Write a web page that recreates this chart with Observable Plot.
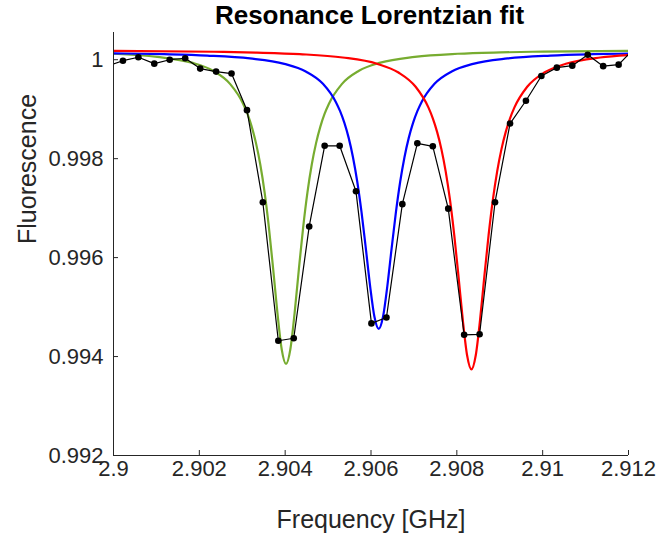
<!DOCTYPE html>
<html><head><meta charset="utf-8">
<script src="https://cdn.jsdelivr.net/npm/d3@7"></script>
<script src="https://cdn.jsdelivr.net/npm/@observablehq/plot@0.6"></script>
<style>
body{margin:0;background:#fff;}
#title{width:657px;height:28px;line-height:26px;text-align:center;font:bold 26px "Liberation Sans",Arial,sans-serif;color:#000;padding-left:82px;box-sizing:border-box;white-space:nowrap}
</style></head><body>
<div id="title">Resonance Lorentzian fit</div>
<div id="chart"></div>
<script>
// measured data (black dots)
const dataFreq = [2.89986, 2.90022, 2.90058, 2.90095, 2.90131, 2.90167, 2.90202, 2.90239, 2.90275, 2.90311, 2.90348, 2.90384, 2.90420, 2.90456, 2.90492, 2.90527, 2.90565, 2.90601, 2.90636, 2.90673, 2.90708, 2.90744, 2.90780, 2.90817, 2.90853, 2.90889, 2.90924, 2.90961, 2.90997, 2.91033, 2.91069, 2.91105, 2.91141, 2.91177, 2.91213];
const dataFluor = [0.99987, 0.99998, 1.00005, 0.99992, 1.00000, 1.00003, 0.99982, 0.99976, 0.99972, 0.99898, 0.99712, 0.99432, 0.99437, 0.99663, 0.99826, 0.99826, 0.99734, 0.99467, 0.99479, 0.99708, 0.99831, 0.99825, 0.99699, 0.99444, 0.99445, 0.99712, 0.99871, 0.99917, 0.99967, 0.99984, 0.99988, 1.00010, 0.99987, 0.99990, 1.00023];

// green fit
const greenFreq = [2.9, 2.90102, 2.90182, 2.90232, 2.90272, 2.90302, 2.90312, 2.90322, 2.90332, 2.90342, 2.90352, 2.90362, 2.90372, 2.90382, 2.90392, 2.90402, 2.90412, 2.90422, 2.90432, 2.90442, 2.90452, 2.90462, 2.90472, 2.90482, 2.90492, 2.90502, 2.90532, 2.90572, 2.90622, 2.90702, 2.90802, 2.90902, 2.91002, 2.912];
const greenFit = [1.00012, 1.000057, 0.99994, 0.999776, 0.999507, 0.999111, 0.998908, 0.998648, 0.998314, 0.997882, 0.997324, 0.996618, 0.995774, 0.994878, 0.994143, 0.99385, 0.994143, 0.994878, 0.995774, 0.996618, 0.997324, 0.997882, 0.998314, 0.998648, 0.998908, 0.999111, 0.999507, 0.999776, 0.99994, 1.000057, 1.00012, 1.000148, 1.000164, 1.000179];

// blue fit
const blueFreq = [2.9, 2.90118, 2.90218, 2.90318, 2.90398, 2.90448, 2.90488, 2.90518, 2.90528, 2.90538, 2.90548, 2.90558, 2.90568, 2.90578, 2.90588, 2.90598, 2.90608, 2.90618, 2.90628, 2.90638, 2.90648, 2.90658, 2.90668, 2.90678, 2.90688, 2.90698, 2.90708, 2.90718, 2.90748, 2.90788, 2.90838, 2.90918, 2.91018, 2.91118, 2.912];
const blueFit = [1.000128, 1.000111, 1.000084, 1.000026, 0.999916, 0.999762, 0.999513, 0.999147, 0.998960, 0.998723, 0.998420, 0.998030, 0.997533, 0.996912, 0.996181, 0.995419, 0.994803, 0.99456, 0.994803, 0.995419, 0.996181, 0.996912, 0.997533, 0.998030, 0.998420, 0.998723, 0.998960, 0.999147, 0.999513, 0.999762, 0.999916, 1.000026, 1.000084, 1.000111, 1.000124];

// red fit
const redFreq = [2.9, 2.90234, 2.90334, 2.90434, 2.90534, 2.90614, 2.90664, 2.90704, 2.90734, 2.90744, 2.90754, 2.90764, 2.90774, 2.90784, 2.90794, 2.90804, 2.90814, 2.90824, 2.90834, 2.90844, 2.90854, 2.90864, 2.90874, 2.90884, 2.90894, 2.90904, 2.90914, 2.90924, 2.90934, 2.90964, 2.91004, 2.91054, 2.91134, 2.912];
const redFit = [1.00018, 1.000161, 1.000143, 1.000112, 1.000045, 0.999918, 0.999741, 0.999453, 0.999031, 0.998816, 0.998542, 0.998193, 0.997743, 0.997170, 0.996454, 0.995610, 0.994731, 0.994020, 0.99374, 0.994020, 0.994731, 0.995610, 0.996454, 0.997170, 0.997743, 0.998193, 0.998542, 0.998816, 0.999031, 0.999453, 0.999741, 0.999918, 1.000045, 1.000095];

// ticks
const xTicks = [2.9, 2.902, 2.904, 2.906, 2.908, 2.91, 2.912];
const xTickLabels = ["2.9", "2.902", "2.904", "2.906", "2.908", "2.91", "2.912"];
const yTicks = [0.992, 0.994, 0.996, 0.998, 1];
const yTickLabels = ["0.992", "0.994", "0.996", "0.998", "1"];

const axisColor = "#262626";
const font = "'Liberation Sans', Arial, Helvetica, sans-serif";

const chart = Plot.plot({
  width: 657,
  height: 508,
  marginLeft: 113,
  marginRight: 29,
  marginTop: 4,
  marginBottom: 81,
  style: {fontFamily: font, fontSize: "22px", color: axisColor, background: "#fff", overflow: "visible"},
  x: {domain: [2.9, 2.912]},
  y: {domain: [0.992, 1.00055]},
  marks: [
    Plot.line(greenFit, {x: greenFreq, y: greenFit, stroke: "#77AC30", strokeWidth: 2.2, curve: "monotone-x", clip: true}),
    Plot.line(blueFit, {x: blueFreq, y: blueFit, stroke: "#0000FF", strokeWidth: 2.2, curve: "monotone-x", clip: true}),
    Plot.line(redFit, {x: redFreq, y: redFit, stroke: "#FF0000", strokeWidth: 2.2, curve: "monotone-x", clip: true}),
    Plot.line(dataFluor, {x: dataFreq, y: dataFluor, stroke: "#000", strokeWidth: 1.2, clip: true}),
    Plot.dot(dataFluor, {x: dataFreq, y: dataFluor, r: 3.3, fill: "#000", stroke: "none", clip: true}),
    Plot.ruleX([xTicks[0]], {stroke: axisColor, strokeWidth: 1}),
    Plot.ruleY([yTicks[0]], {stroke: axisColor, strokeWidth: 1}),
    Plot.axisX({ticks: xTicks, tickSize: -5, tickPadding: 10, stroke: axisColor, tickFormat: d => xTickLabels[xTicks.indexOf(d)], label: null, fontSize: 22}),
    Plot.axisY({ticks: yTicks, tickSize: -5, tickPadding: 15, stroke: axisColor, tickFormat: d => yTickLabels[yTicks.indexOf(d)], label: null, fontSize: 22}),
    Plot.text(["Frequency [GHz]"], {frameAnchor: "bottom", dy: 64, fontSize: 25, fill: axisColor, lineAnchor: "middle"}),
    Plot.text(["Fluorescence"], {frameAnchor: "left", dx: -86, rotate: -90, fontSize: 25, fill: axisColor, lineAnchor: "middle"})
  ]
});
document.getElementById("chart").appendChild(chart);
</script>
</body></html>
